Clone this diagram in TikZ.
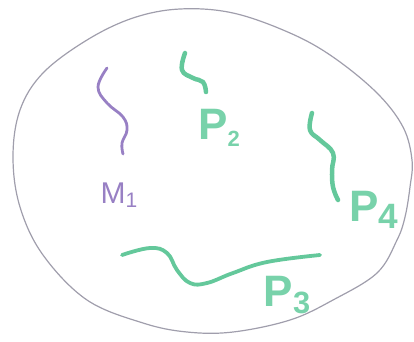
\documentclass[tikz,border=0pt]{standalone}
\usepackage{fontspec}
\setmainfont{Liberation Sans}
\usepackage{graphicx}
\usepackage{tikz}
\usetikzlibrary{positioning}
\usepackage{xcolor}
\definecolor{rim}{RGB}{160,158,172}
\definecolor{mauve}{RGB}{152,128,196}
\definecolor{mint}{RGB}{100,200,155}
\definecolor{mintlbl}{RGB}{120,210,170}
\tikzset{
  rimline/.style={draw=rim,line width=1.2pt},
  strand/.style={line width=4.5pt,line cap=round,line join=round},
  tag/.style={inner sep=0pt,anchor=center},
  ptag/.style={tag,mintlbl,font=\fontsize{44}{44}\selectfont\bfseries},
}
\newcommand{\lowidx}[2][0.6]{\raisebox{-0.15em}{\scalebox{#1}{#2}}}

\begin{document}
\begin{tikzpicture}[x=1pt,y=-1pt]
  \useasboundingbox (0,0) rectangle (414,341);
  % the region
  \draw[rimline] plot[smooth cycle,tension=0.6] coordinates {
    (180,9) (233,13) (290,33) (333,57) (377,93) (403,127) (412,160)
    (410,187) (405,217) (397,240) (377,273) (333,300) (290,320)
    (233,332) (187,332) (143,323) (87,300) (43,255) (20,207)
    (13,157) (20,110) (43,73) (87,40) (133,18)};
  % strands
  \draw[strand,mauve,line width=2.8pt] plot[smooth,tension=0.7] coordinates {
    (107,68) (98,87) (107,103) (123,117) (127,130) (122,143) (123,154)};
  \draw[strand,mint] plot[smooth,tension=0.7] coordinates {
    (185,53) (182,70) (193,78) (203,82) (206,92)};
  \draw[strand,mint] plot[smooth,tension=0.7] coordinates {
    (312,113) (310,130) (320,140) (333,153) (332,170) (333,187) (338,200)};
  \draw[strand,mint,line width=3.8pt] plot[smooth,tension=0.7] coordinates {
    (122,255) (150,248) (167,253) (177,270) (190,283) (207,283)
    (233,273) (267,262) (320,255)};
  % labels
  \node[tag,mauve,font=\fontsize{30}{30}\selectfont] (m1) at (119,195) {M\lowidx[0.7]{1}};
  \node[ptag] (p2) at (219,128) {P\lowidx[0.5]{2}};
  \node[ptag] (p4) at (374,210) {P\lowidx[0.8]{4}};
  \node[ptag] (p3) at (287,295) {P\lowidx[0.7]{3}};
\end{tikzpicture}
\end{document}
